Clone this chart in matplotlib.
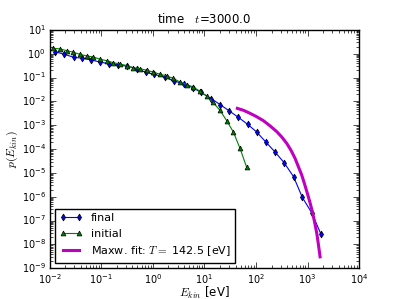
import numpy as np
import matplotlib
matplotlib.use("Agg")
import matplotlib.pyplot as plt

# final distribution
e_final = [0.0125, 0.019, 0.0288, 0.0424, 0.0625, 0.0935, 0.138, 0.2065, 0.313,
           0.489, 0.731, 1.07, 1.73, 2.56, 4.0, 5.9, 8.43, 13.4, 20.0, 30.2,
           45.3, 68.4, 103, 154, 234, 350, 535, 793, 1222, 1828]
p_final = [1.22, 0.95, 0.71, 0.65, 0.55, 0.45, 0.38, 0.35, 0.30,
           0.23, 0.167, 0.135, 0.103, 0.072, 0.054, 0.038, 0.024, 0.0132,
           0.0074, 0.0040, 0.00215, 0.0011, 5.2e-4, 2.0e-4, 7.5e-5, 2.7e-5,
           6.9e-6, 9.3e-7, 2.0e-7, 2.6e-8]

# initial distribution
e_init = [0.0116, 0.0156, 0.0211, 0.0284, 0.0383, 0.0515, 0.0695, 0.0935, 0.126,
          0.170, 0.229, 0.308, 0.415, 0.560, 0.754, 1.016, 1.37, 1.85, 2.48,
          3.34, 4.51, 6.07, 8.18, 11.0, 14.8, 20.0, 27.0, 36.3, 48.9, 65.9]
p_init = [1.70, 1.59, 1.35, 1.16, 0.94, 0.81, 0.73, 0.59, 0.51,
          0.42, 0.37, 0.32, 0.26, 0.237, 0.203, 0.169, 0.138, 0.117, 0.092,
          0.065, 0.051, 0.040, 0.0265, 0.0169, 0.0090, 0.0042, 0.00155,
          5.2e-4, 1.07e-4, 1.7e-5]

# Maxwellian fit curve
e_fit = [43.4, 57.5, 76.4, 102, 139, 186, 252, 316, 394, 479, 571, 661, 771,
         871, 991, 1122, 1262, 1380, 1510, 1622, 1750]
p_fit = [5.1e-3, 4.2e-3, 3.16e-3, 2.3e-3, 1.55e-3, 9.5e-4, 5.4e-4, 3.2e-4,
         1.74e-4, 8.7e-5, 4.1e-5, 1.86e-5, 8.1e-6, 3.5e-6, 1.38e-6, 5.4e-7,
         2.0e-7, 7.9e-8, 2.9e-8, 1.0e-8, 3.0e-9]
T_fit = 142.5
t_now = 3000.0

plt.style.use("classic")
plt.rcParams["font.size"] = 8

fig = plt.figure(figsize=(3.99, 2.99), dpi=100)
ax = fig.add_subplot(111)
fig.subplots_adjust(left=0.125, right=0.9, bottom=0.103, top=0.9)

ax.loglog(e_final, p_final, "b-d", lw=0.8, ms=3.5, label="final")
ax.loglog(e_init, p_init, "g-^", lw=0.8, ms=3.5, label="initial")
ax.loglog(e_fit, p_fit, "m-", lw=2.2, label="Maxw. fit: $T=$ %.1f [eV]" % T_fit)

ax.set_xlim(1e-2, 1e4)
ax.set_ylim(1e-9, 1e1)
ax.tick_params(labelsize=7, pad=3)
ax.set_xlabel("$E_{kin}$ [eV]", fontsize=8.5, labelpad=-1)
ax.set_ylabel("$p(E_{kin})$", fontsize=8.5, labelpad=1)
ax.set_title("time   $t$=%.1f" % t_now, fontsize=8.5)
ax.legend(loc="lower left", numpoints=2, fontsize=8)

fig.savefig("out.png", dpi=100)
